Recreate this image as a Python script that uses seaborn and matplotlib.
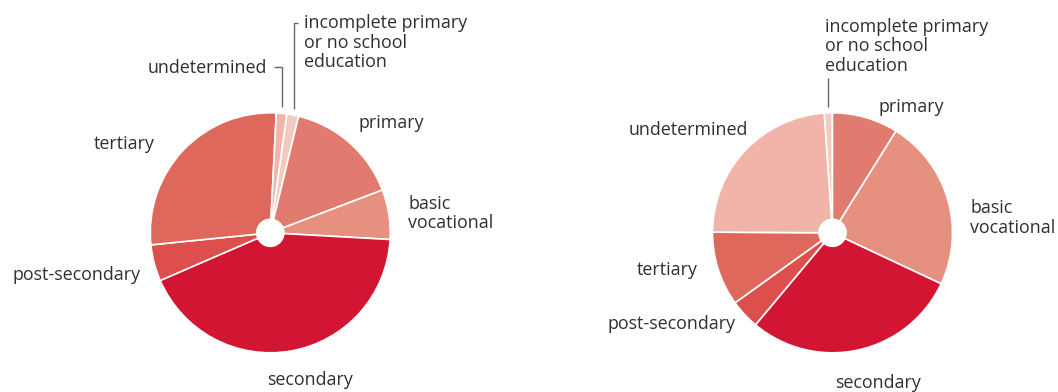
import numpy as np
import matplotlib
matplotlib.use("Agg")
import matplotlib.pyplot as plt
import seaborn as sns

# Education structure: shares (%) per category, listed clockwise
categories = [
    "incomplete primary\nor no school\neducation",
    "primary",
    "basic\nvocational",
    "secondary",
    "post-secondary",
    "tertiary",
    "undetermined",
]
left_shares = [1.6, 15.4, 6.7, 42.6, 4.9, 27.4, 1.4]
right_shares = [1.1, 8.9, 23.1, 29.1, 4.0, 10.0, 23.8]

colors = {
    "incomplete primary\nor no school\neducation": "#f3cac0",
    "primary": "#e27b6f",
    "basic\nvocational": "#e6907f",
    "secondary": "#d21532",
    "post-secondary": "#dc4f4c",
    "tertiary": "#de685c",
    "undetermined": "#f0b5a8",
}

W, H = 1058, 392
R = 120          # pie radius in pixels
LIM = 1.1        # data half-extent of each pie axes
HOLE = 0.1125    # inner hole radius (fraction of pie radius)
TEXT = "#2f2f2f"
LEADER = "#666666"
FS = 12.9

sns.set_theme(style="white")
plt.rcParams["font.family"] = ["Open Sans", "DejaVu Sans"]

fig = plt.figure(figsize=(W / 100, H / 100), dpi=100)


def pie_axes(cx, cy):
    ax = fig.add_axes([(cx - LIM * R) / W, (H - cy - LIM * R) / H,
                       2 * LIM * R / W, 2 * LIM * R / H])
    return ax


def draw_pie(ax, shares, start_cw):
    ax.pie(shares, colors=[colors[c] for c in categories],
           startangle=90 - start_cw, counterclock=False, radius=1,
           wedgeprops=dict(width=1 - HOLE, edgecolor="white", linewidth=1.2))
    ax.set_xlim(-LIM, LIM)
    ax.set_ylim(-LIM, LIM)
    ax.set_aspect("equal")
    ax.axis("off")


def mid_angle(shares, start_cw, name):
    cum = np.cumsum(shares) / np.sum(shares) * 360
    i = categories.index(name)
    lo = cum[i - 1] if i > 0 else 0.0
    return np.deg2rad(start_cw + (lo + cum[i]) / 2)


def leader(ax, cy, shares, start_cw, name, top_px, tick_px=0.0):
    a = mid_angle(shares, start_cw, name)
    x0, y0 = 1.05 * np.sin(a), 1.05 * np.cos(a)
    ytop = (cy - top_px) / R
    xs = [x0, x0]
    ys = [y0, ytop]
    if tick_px:
        xs.append(x0 + tick_px / R)
        ys.append(ytop)
    ax.plot(xs, ys, color=LEADER, lw=1.0, clip_on=False,
            solid_capstyle="butt", solid_joinstyle="miter")


def label(x, y, text, ha="left", step=19.5):
    for k, line in enumerate(text.split("\n")):
        fig.text(x / W, 1 - (y + k * step) / H, line, ha=ha, va="baseline",
                 fontsize=FS, color=TEXT)


# left pie
lcx, lcy, lstart = 270.3, 232.8, 7.9
axl = pie_axes(lcx, lcy)
draw_pie(axl, left_shares, lstart)
leader(axl, lcy, left_shares, lstart, "undetermined", 67.3, tick_px=-8)
leader(axl, lcy, left_shares, lstart, categories[0], 22.7, tick_px=4)
label(304.5, 28.3, categories[0])
label(266.7, 72.7, "undetermined", ha="right")
label(358.3, 128.3, "primary")
label(408.3, 209.0, "basic\nvocational")
label(310.0, 385.0, "secondary", ha="center")
label(140.7, 280.0, "post-secondary", ha="right")
label(155.0, 148.7, "tertiary", ha="right")

# right pie
rcx, rcy, rstart = 832.5, 232.8, -4.0
axr = pie_axes(rcx, rcy)
draw_pie(axr, right_shares, rstart)
leader(axr, rcy, right_shares, rstart, categories[0], 78.3)
label(825.3, 31.7, categories[0])
label(878.3, 111.7, "primary")
label(970.0, 213.3, "basic\nvocational")
label(878.0, 388.3, "secondary", ha="center")
label(736.0, 329.3, "post-secondary", ha="right")
label(697.7, 275.0, "tertiary", ha="right")
label(748.0, 135.0, "undetermined", ha="right")

fig.savefig("out.png", dpi=100, facecolor="white")
